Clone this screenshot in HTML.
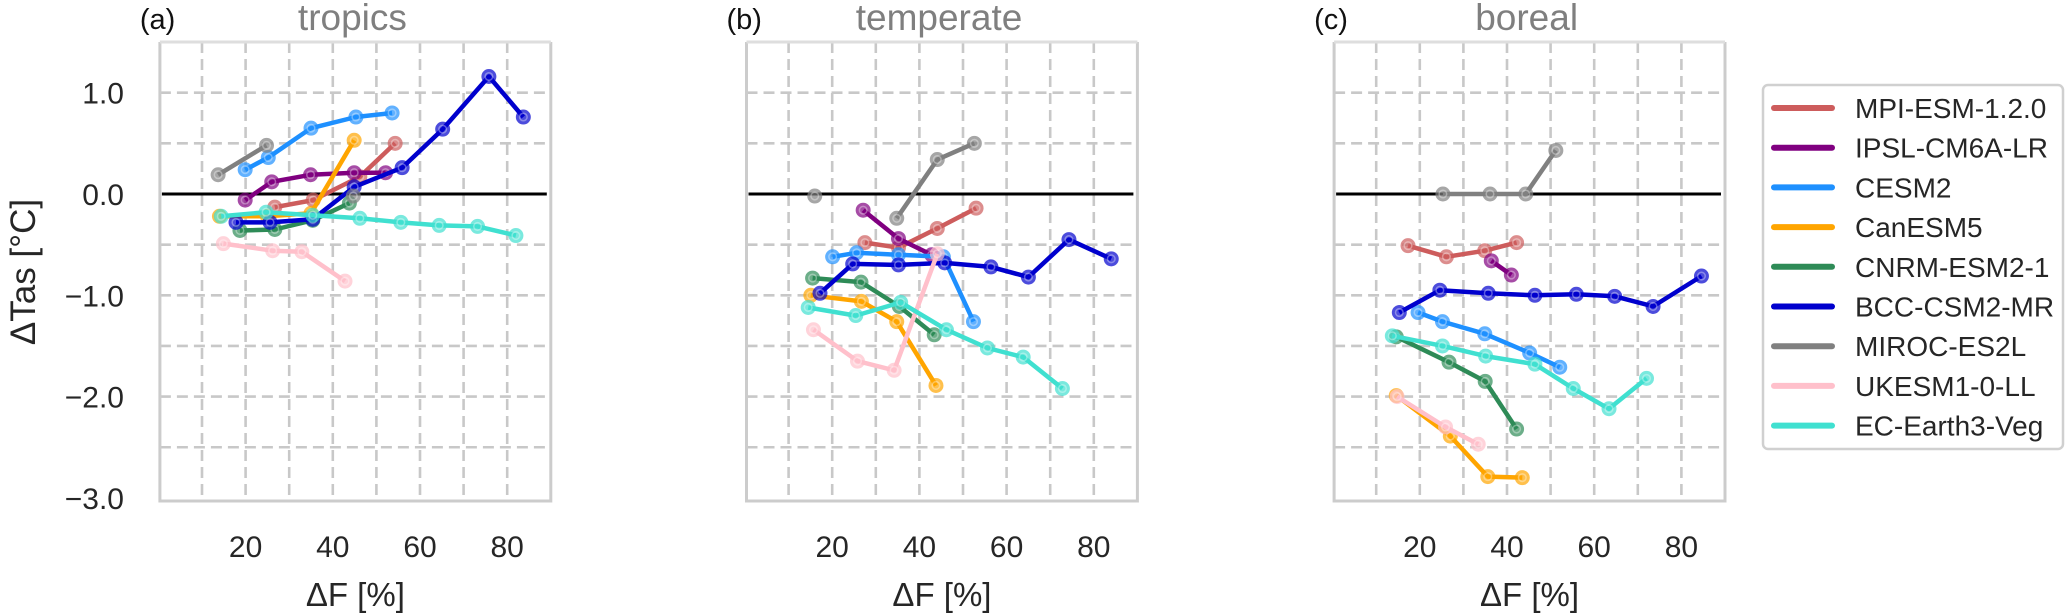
<!DOCTYPE html>
<html><head><meta charset="utf-8"><style>
html,body{margin:0;padding:0;background:#fff;}
svg{display:block;font-family:"Liberation Sans",Arial,sans-serif;}
</style></head><body>
<svg id="chart" width="2067" height="614" viewBox="0 0 2067 614" xmlns="http://www.w3.org/2000/svg"></svg>
<script>
const models = ["MPI-ESM-1.2.0","IPSL-CM6A-LR","CESM2","CanESM5","CNRM-ESM2-1","BCC-CSM2-MR","MIROC-ES2L","UKESM1-0-LL","EC-Earth3-Veg"];
const colors = ["#CD5C5C","#800080","#1E90FF","#FFA500","#2E8B57","#0000CD","#808080","#FFC0CB","#40E0D0"];
const regions = ["tropics","temperate","boreal"];
const panelLetters = ["(a)","(b)","(c)"];
const xTicks = [20,40,60,80];
const yTicks = [1.0,0.0,-1.0,-2.0,-3.0];
const yTickLabels = ["1.0","0.0","\u22121.0","\u22122.0","\u22123.0"];
// x (ΔF %) values per panel per model; null breaks the line
const tropicsX = [
 [26.7,35.5,46.2,54.3],[19.9,26,34.9,44.9,52.1],[19.9,25.2,35,45.3,53.6],[14,25,35,44.9],
 [18.7,26.7,35.4,43.8],[17.8,25.6,35.4,44.9,55.9,65.2,75.8,83.7],[13.7,24.8,null,44.7],
 [14.9,26.2,32.9,42.8],[14.4,24.7,35.4,46.2,55.6,64.4,73.2,82]];
const tropicsY = [
 [-0.13,-0.06,0.17,0.50],[-0.06,0.12,0.19,0.21,0.21],[0.24,0.36,0.65,0.76,0.80],[-0.22,-0.22,-0.19,0.53],
 [-0.36,-0.35,-0.26,-0.09],[-0.28,-0.28,-0.25,0.07,0.26,0.64,1.16,0.76],[0.19,0.48,null,-0.02],
 [-0.49,-0.56,-0.57,-0.86],[-0.22,-0.18,-0.21,-0.24,-0.28,-0.31,-0.32,-0.41]];
const temperateX = [
 [27.5,35.2,44.1,53],[27.1,35.2,42.8],[20.1,25.6,35.2,45.5,52.4],[15.1,26.7,34.8,43.8],
 [15.5,26.6,35.4,43.4],[17.2,24.7,35.2,45.8,56.4,65,74.3,84],[16,null,34.8,44.1,52.6],
 [15.7,25.8,34.2,44.1],[14.5,25.4,35.7,46.2,55.6,63.8,72.8]];
const temperateY = [
 [-0.48,-0.53,-0.34,-0.14],[-0.16,-0.44,-0.60],[-0.62,-0.58,-0.60,-0.62,-1.26],[-1.0,-1.06,-1.26,-1.89],
 [-0.83,-0.87,-1.11,-1.39],[-0.98,-0.69,-0.70,-0.68,-0.72,-0.82,-0.45,-0.64],[-0.02,null,-0.24,0.34,0.50],
 [-1.34,-1.65,-1.74,-0.59],[-1.12,-1.2,-1.07,-1.34,-1.52,-1.61,-1.92]];
const borealX = [
 [17.3,26.1,34.9,42.2],[36.4,41],[19.6,25.2,34.9,45.2,52.1],[14.6,27,35.6,43.5],
 [14.6,26.7,35,42.2],[15.3,24.6,35.7,46.4,55.9,64.7,73.5,84.6],[25.3,36.1,44.3,51.2],
 [14.8,25.9,33.4],[13.7,25.2,35.1,46.4,55.2,63.4,72]];
const borealY = [
 [-0.51,-0.62,-0.56,-0.48],[-0.66,-0.80],[-1.17,-1.26,-1.38,-1.57,-1.71],[-1.99,-2.39,-2.79,-2.80],
 [-1.41,-1.66,-1.85,-2.32],[-1.17,-0.95,-0.98,-1.0,-0.99,-1.01,-1.11,-0.81],[0,0,0,0.43],
 [-2.0,-2.30,-2.47],[-1.40,-1.50,-1.60,-1.68,-1.92,-2.12,-1.82]];
const panelX = [tropicsX,temperateX,borealX];
const panelY = [tropicsY,temperateY,borealY];

const NS="http://www.w3.org/2000/svg";
const svg=document.getElementById('chart');
function mk(tag,attrs,parent){const e=document.createElementNS(NS,tag);for(const k in attrs)e.setAttribute(k,attrs[k]);(parent||svg).appendChild(e);return e;}
const X0s=[158.4,745,1332.6], XS=4.36, XMIN=0, XMAX=90;
const Y0=194, YS=101.3, YTOP=1.5, YBOT=-3.03;
function yPix(v){return Y0-v*YS;}

for(let p=0;p<3;p++){
  const xPix=v=>X0s[p]+v*XS;
  const L=xPix(XMIN)+1.5, R=xPix(XMAX), T=yPix(YTOP), B=yPix(YBOT);
  const g=mk('g',{});
  
  
  const grid=mk('g',{},g);
  
  
  for(let v=10;v<=80;v+=10){mk('line',{x1:xPix(v),x2:xPix(v),y1:T,y2:B,stroke:'#c8c8c8','stroke-width':2.6,'stroke-dasharray':'11,6'},grid);}
  for(let v=1.0;v>=-2.5;v-=0.5){if(Math.abs(v)<1e-6)continue;mk('line',{x1:L,x2:R,y1:yPix(v),y2:yPix(v),stroke:'#c8c8c8','stroke-width':2.6,'stroke-dasharray':'11,6'},grid);}
  const zl=mk('line',{x1:L+2,x2:R-4,y1:yPix(0),y2:yPix(0),stroke:'#000','stroke-width':3},g);
  
  
  const fr=mk('path',{d:`M${L},${T}V${B}H${R}V${T}`,fill:'none',stroke:'#cccccc','stroke-width':3},g);
  
  
  mk('line',{x1:L,x2:R,y1:T,y2:T,stroke:'#dedede','stroke-width':3},g);
  // series
  for(let m=0;m<models.length;m++){
    const xs=panelX[p][m], ys=panelY[p][m];
    const sg=mk('g',{},g);
    
    
    let d='',pen=false;
    for(let i=0;i<xs.length;i++){
      if(xs[i]===null){pen=false;continue;}
      d+=(pen?'L':'M')+xPix(xs[i]).toFixed(1)+','+yPix(ys[i]).toFixed(1);pen=true;
    }
    mk('path',{d:d,fill:'none',stroke:colors[m],'stroke-width':4.5,'stroke-linejoin':'round'},sg);
    for(let i=0;i<xs.length;i++){
      if(xs[i]===null)continue;
      const c=mk('circle',{cx:xPix(xs[i]),cy:yPix(ys[i]),r:7.5,fill:colors[m],'fill-opacity':0.7},sg);
      
      
      mk('circle',{cx:xPix(xs[i]),cy:yPix(ys[i]),r:3.8,fill:'none',stroke:'#fff','stroke-opacity':0.35,'stroke-width':1.5},sg);
    }
  }
  // x ticks
  for(let i=0;i<xTicks.length;i++){
    const t=mk('text',{x:xPix(xTicks[i]),y:557,'font-size':30,'text-anchor':'middle',fill:'#262626'},g);
    t.textContent=xTicks[i];
    
    
  }
  const xl=mk('text',{x:(L+R)/2,y:606,'font-size':33,'text-anchor':'middle',fill:'#262626'},g);
  xl.textContent='\u0394F [%]';
  
  
  const pl=mk('text',{x:L-20,y:29,'font-size':29,fill:'#111'},g);
  pl.textContent=panelLetters[p];
  
  
  const rt=mk('text',{x:xPix(44.5),y:30,'font-size':37,'text-anchor':'middle',fill:'#7f7f7f'},g);
  rt.textContent=regions[p];
  
  
  if(p===0){
    for(let i=0;i<yTicks.length;i++){
      const t=mk('text',{x:124,y:yPix(yTicks[i])+11,'font-size':30,'text-anchor':'end',fill:'#262626'},g);
      t.textContent=yTickLabels[i];
      
      
    }
    const yl=mk('text',{x:0,y:0,'font-size':35,'text-anchor':'middle',fill:'#262626',transform:'translate(35,272) rotate(-90)'},g);
    yl.textContent='\u0394Tas [\u00B0C]';
    
    
  }
}
// legend
const lg=mk('g',{});


mk('rect',{x:1763,y:85,width:300,height:364,rx:5,fill:'#fff',stroke:'#d0d0d0','stroke-width':2.5},lg);
for(let m=0;m<models.length;m++){
  const y=108+m*39.7;
  const e=mk('g',{},lg);
  
  
  mk('line',{x1:1774,x2:1832,y1:y,y2:y,stroke:colors[m],'stroke-width':6,'stroke-linecap':'round'},e);
  const t=mk('text',{x:1855,y:y+10,'font-size':28,fill:'#262626'},e);
  t.textContent=models[m];
}
</script>
</body></html>
